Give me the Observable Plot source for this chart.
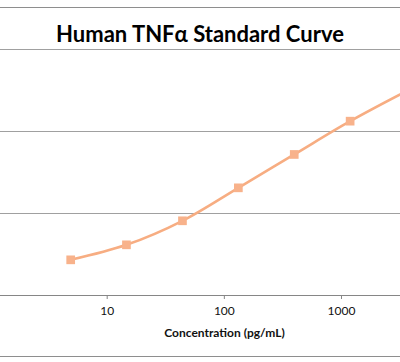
<!DOCTYPE html>
<html>
<head>
<meta charset="utf-8">
<script src="https://cdn.jsdelivr.net/npm/d3@7"></script>
<script src="https://cdn.jsdelivr.net/npm/@observablehq/plot@0.6"></script>
<style>
  html, body { margin: 0; padding: 0; background: #fff; }
  #wrap { position: relative; width: 400px; height: 362px; overflow: hidden; background: #fff; }
  #border { position: absolute; left: 0; top: 7px; width: 400px; height: 348px;
            border-top: 1px solid #8e8e8e; border-bottom: 1px solid #8e8e8e; }
  #title { position: absolute; left: 0; top: 21px; width: 400px; text-align: center;
           font: bold 22px Lato, sans-serif; line-height: 25px; color: #000; }
  #plot { position: absolute; left: -40px; top: 0; width: 528px; height: 362px; }
  #plot svg { max-width: none !important; }
</style>
</head>
<body>
<div id="wrap">
  <div id="border"></div>
  <div id="title">Human TNFα Standard Curve</div>
  <div id="plot"></div>
</div>
<script>
const titleText = "Human TNFα Standard Curve";
const xLabel = "Concentration (pg/mL)";
const concentrations = [4.88, 14.6, 43.9, 131.7, 395, 1185, 3556];
const absorbance = [0.435, 0.618, 0.911, 1.313, 1.72, 2.126, 2.49];
const xTicks = [10, 100, 1000];
const yGrid = [1, 2, 3];

const data = concentrations.map((c, i) => ({conc: c, od: absorbance[i]}));

const chart = Plot.plot({
  width: 528,
  height: 362,
  marginTop: 49,
  marginBottom: 67,
  marginLeft: 0,
  marginRight: 0,
  style: {fontFamily: "Lato, sans-serif", fontSize: "12px", color: "#111", background: "transparent"},
  x: {type: "log", domain: [10, 1000], range: [146.7, 381]},
  y: {domain: [0, 3], axis: null},
  marks: [
    Plot.ruleY(yGrid, {stroke: "#a0a0a0", strokeWidth: 1}),
    Plot.ruleY([0], {stroke: "#868686", strokeWidth: 1}),
    Plot.axisX({ticks: xTicks, tickFormat: d3.format("d"), tickSize: 4, tickPadding: 6.5, stroke: "#868686", label: null, fill: "#111", fontSize: 12}),
    Plot.line(data, {x: "conc", y: "od", curve: "catmull-rom", stroke: "#F7AD82", strokeWidth: 2.6}),
    Plot.dot(data, {x: "conc", y: "od", symbol: "square", r: 4.9, fill: "#F8B28B", stroke: "none"}),
    Plot.text([xLabel], {frameAnchor: "bottom", dy: 38, lineAnchor: "middle", fontWeight: "bold", fontSize: 12, fill: "#111"})
  ]
});
document.getElementById("plot").appendChild(chart);
document.getElementById("title").textContent = titleText;
</script>
</body>
</html>
